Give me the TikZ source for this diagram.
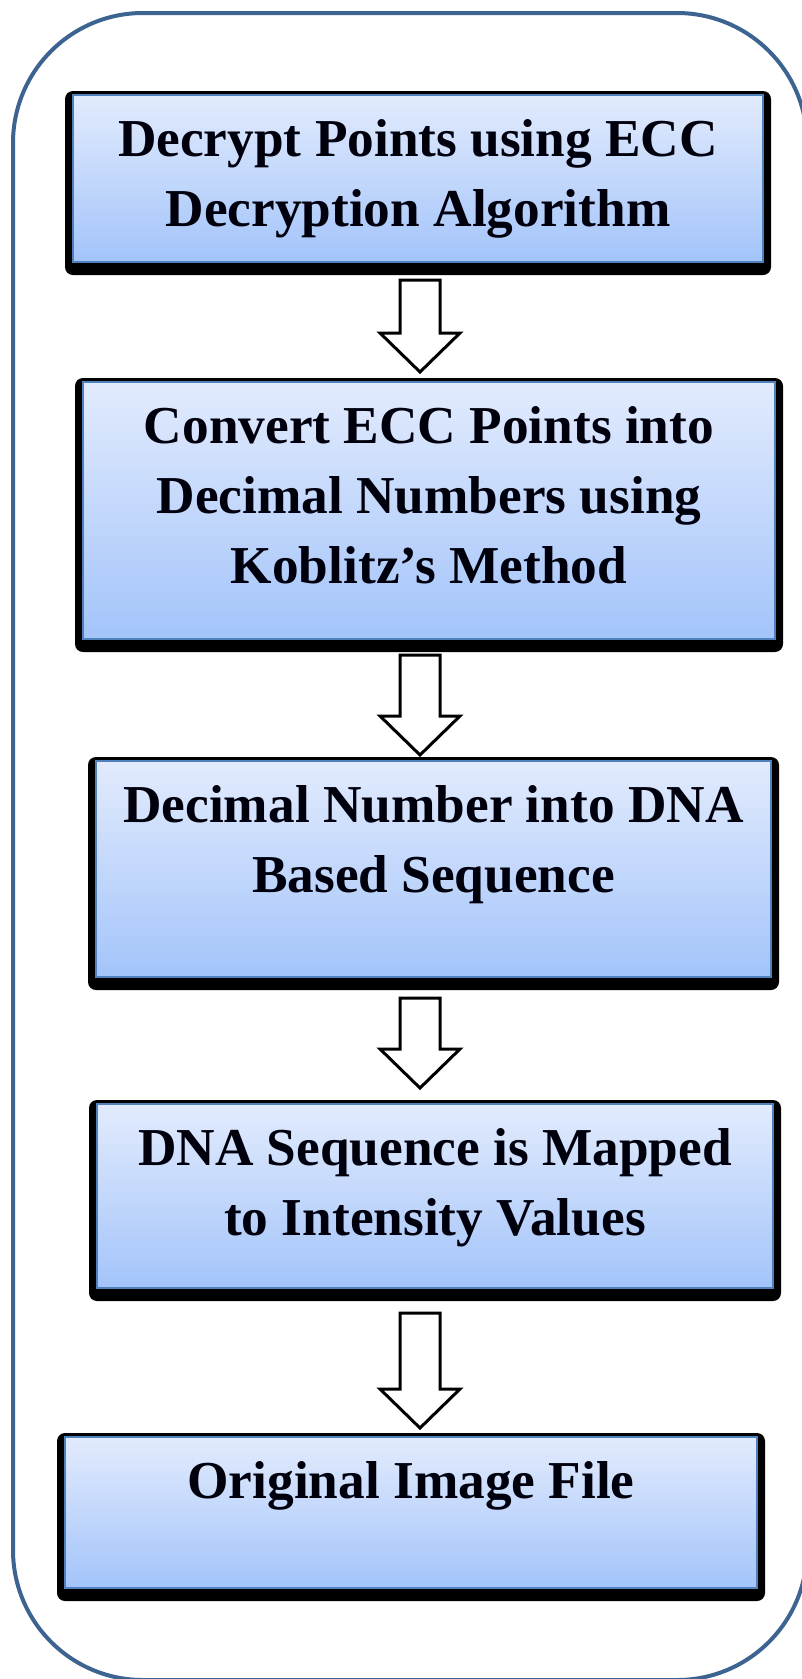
\documentclass[tikz,border=0pt]{standalone}
\usepackage{fontspec}
\setmainfont{Liberation Serif}
\usetikzlibrary{calc,backgrounds}

\definecolor{framecol}{RGB}{61,99,145}
\definecolor{boxedge}{RGB}{79,129,189}
\definecolor{gradtop}{RGB}{226,235,253}
\definecolor{gradbot}{RGB}{163,196,250}

\tikzset{
  stepbox/.style={draw=boxedge, line width=1.5pt, top color=gradtop,
    bottom color=gradbot, outer sep=0pt, inner sep=0pt},
  steptext/.style={anchor=north, inner sep=0pt, align=center,
    font=\fontsize{53.3}{70}\selectfont\bfseries, text=black!95!blue},
  boxshadow/.style={fill=black, rounded corners=8pt},
  blockarr/.style={draw=black, fill=white, line width=3pt, line join=miter},
  outerframe/.style={draw=framecol, line width=4pt, rounded corners=130pt}
}

% hollow block arrow from a shaft top (#1) down to a tip (#2)
\newcommand\blockarrow[2]{%
  \draw[blockarr] ($(#1)+(-20,0)$) -- ($(#2)+(-20,-39)$) -- ($(#2)+(-40,-39)$)
    -- (#2) -- ($(#2)+(40,-39)$) -- ($(#2)+(20,-39)$) -- ($(#1)+(20,0)$) -- cycle;}

% black backing behind a step box
\newcommand\backing[1]{%
  \fill[boxshadow] ($(#1.north west)+(-8,-4)$) rectangle ($(#1.south east)+(8,13)$);}

\begin{document}
\begin{tikzpicture}[x=1pt,y=-1pt]
  \useasboundingbox (0,0) rectangle (802,1679);

  % rounded outer frame (runs past the right and bottom edges)
  \begin{scope}
    \clip (0,0) rectangle (802,1679);
    \draw[outerframe] (13,13) rectangle (807,1680);
  \end{scope}

  % process steps
  \node[stepbox, minimum width=690pt, minimum height=167pt] (b1) at (418,178.5) {};
  \node[stepbox, minimum width=692pt, minimum height=257pt] (b2) at (429,510.5) {};
  \node[stepbox, minimum width=675pt, minimum height=216pt] (b3) at (433.5,869) {};
  \node[stepbox, minimum width=676pt, minimum height=184pt] (b4) at (435,1196) {};
  \node[stepbox, minimum width=692pt, minimum height=151pt] (b5) at (411,1512.5) {};

  \begin{scope}[on background layer]
    \fill[white] (0,0) rectangle (802,1679);
    \backing{b1}\backing{b2}\backing{b3}\backing{b4}\backing{b5}
  \end{scope}

  \node[steptext] (t1) at ($(b1.north)+(0,24.5)$) {Decrypt Points using ECC\\Decryption Algorithm};
  \node[steptext] (t2) at ($(b2.north)+(0,24.5)$) {Convert ECC Points into\\Decimal Numbers using\\Koblitz’s Method};
  \node[steptext] (t3) at ($(b3.north)+(0,24.5)$) {Decimal Number into DNA\\Based Sequence};
  \node[steptext] (t4) at ($(b4.north)+(0,24.5)$) {DNA Sequence is Mapped\\to Intensity Values};
  \node[steptext] (t5) at ($(b5.north)+(0,24.5)$) {Original Image File};

  % arrows between the steps
  \coordinate (s1) at (420,280);  \coordinate (e1) at (420,372);
  \coordinate (s2) at (420,655);  \coordinate (e2) at (420,755);
  \coordinate (s3) at (420,998);  \coordinate (e3) at (420,1088);
  \coordinate (s4) at (420,1313); \coordinate (e4) at (420,1428);
  \blockarrow{s1}{e1}
  \blockarrow{s2}{e2}
  \blockarrow{s3}{e3}
  \blockarrow{s4}{e4}
\end{tikzpicture}
\end{document}
